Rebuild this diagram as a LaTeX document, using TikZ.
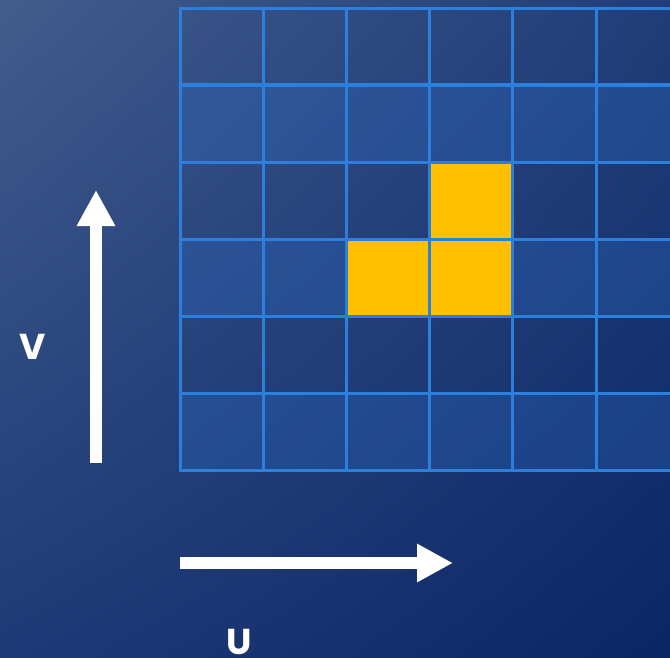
\documentclass[tikz,border=0pt]{standalone}
\usepackage{fontspec}
\setmainfont{Poppins}
\usetikzlibrary{arrows.meta,shadings}
\definecolor{bgtl}{HTML}{425C8D}
\definecolor{bgtr}{HTML}{213D78}
\definecolor{bgbl}{HTML}{1E3A76}
\definecolor{bgbr}{HTML}{0C2664}
\definecolor{gridblue}{HTML}{2A80DA}
\definecolor{hirow}{HTML}{2A6CC8}
\definecolor{gold}{HTML}{FFC000}
\tikzset{
  cell/.style={draw=gridblue, line width=3pt, minimum width=83.2pt, minimum height=77pt, inner sep=0pt},
  hicell/.style={cell, fill=hirow, fill opacity=0.32},
  goldcell/.style={cell, fill=gold},
  bigarrow/.style={white, line width=12pt, -{Triangle[length=36pt,width=36pt]}},
  lbl/.style={text=white, font=\bfseries\fontsize{36}{40}\selectfont, inner sep=0pt}
}
\begin{document}
\begin{tikzpicture}[x=1pt,y=-1pt]
\useasboundingbox (0,0) rectangle (670,657);
\shade[upper left=bgtl, upper right=bgtr, lower left=bgbl, lower right=bgbr] (0,0) rectangle (670,657);
\foreach \r in {0,...,5}{
  \foreach \c in {0,...,5}{
    \pgfmathtruncatemacro{\odd}{mod(\r,2)}
    \ifnum\odd=1
      \node[hicell] (c\r\c) at ({180+83.2*\c+41.6},{8+77*\r+38.5}) {};
    \else
      \node[cell] (c\r\c) at ({180+83.2*\c+41.6},{8+77*\r+38.5}) {};
    \fi
  }
}
\node[goldcell] (g23) at ({180+83.2*3+41.6},{8+77*2+38.5}) {};
\node[goldcell] (g32) at ({180+83.2*2+41.6},{8+77*3+38.5}) {};
\node[goldcell] (g33) at ({180+83.2*3+41.6},{8+77*3+38.5}) {};
\draw[gridblue, line width=4.5pt] (180,85) -- (670,85);
\coordinate (vs) at (96,463);
\coordinate (ve) at (96,190);
\coordinate (us) at (180,563);
\coordinate (ue) at (453,563);
\draw[bigarrow] (vs) -- (ve);
\draw[bigarrow] (us) -- (ue);
\node[lbl] (V) at (33,347) {V};
\node[lbl] (U) at (239,642) {U};
\end{tikzpicture}
\end{document}
